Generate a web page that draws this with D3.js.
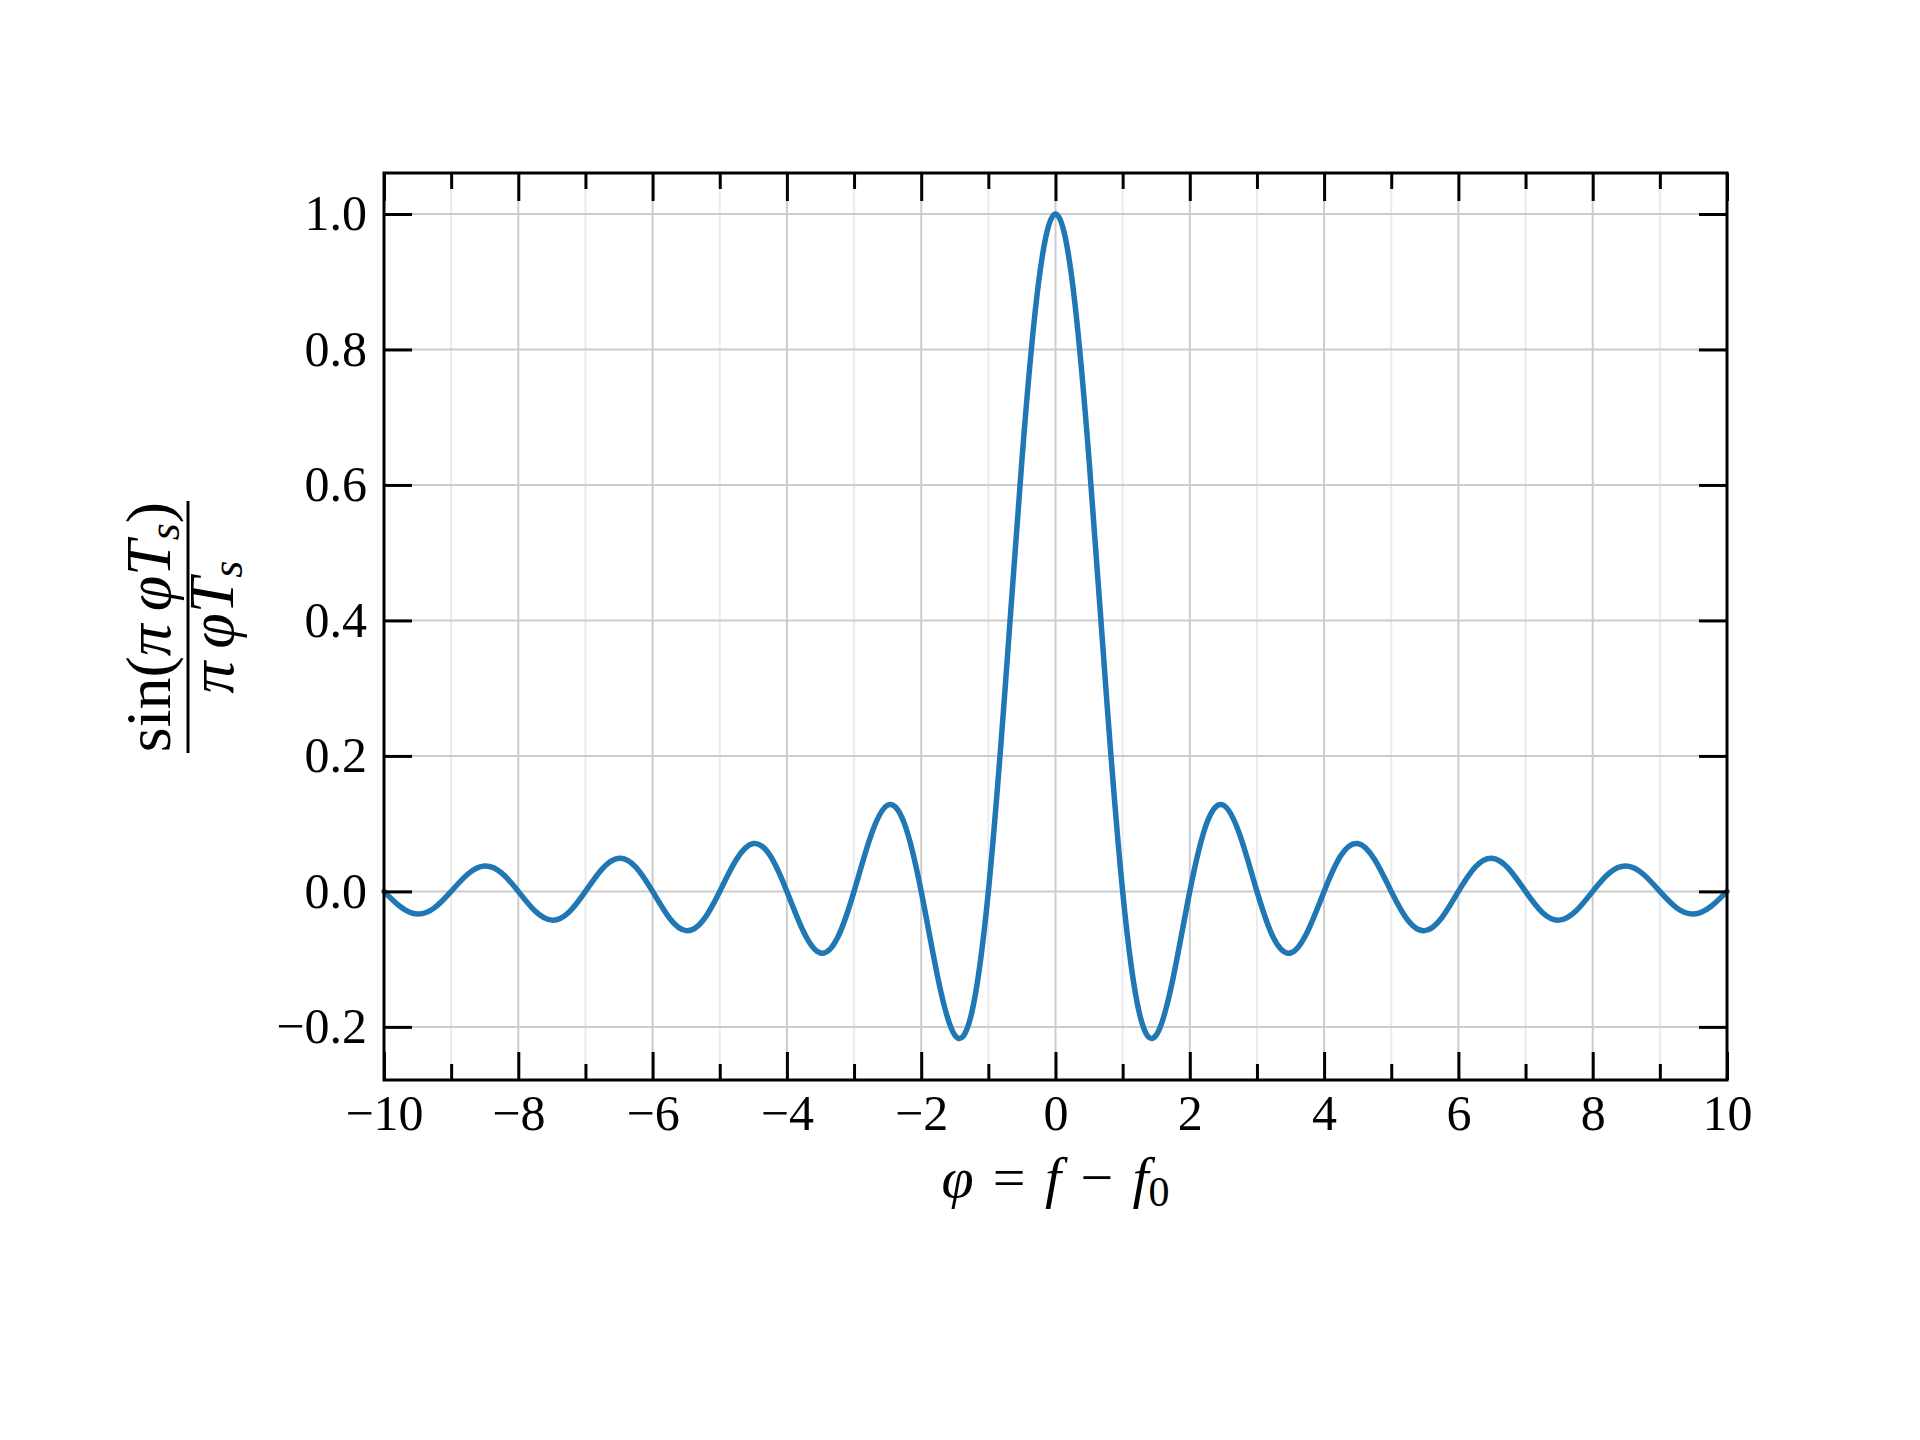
<!DOCTYPE html>
<html>
<head>
<meta charset="utf-8">
<script src="https://cdn.jsdelivr.net/npm/d3@7"></script>
<style>
  body { margin: 0; background: #fff; }
  text { font-family: "Liberation Serif", "DejaVu Serif", serif; fill: #000; }
</style>
</head>
<body>
<div id="chart"></div>
<script>
// sample positions along phi (quarter steps) and the curve values
const phiValues = d3.range(-10, 10.001, 0.25);
const curveValues = [
  0, -0.0231, -0.0335, -0.0243, 0, 0.0257, 0.0374, 0.0273,
  0, -0.029, -0.0424, -0.0311, 0, 0.0334, 0.049, 0.036,
  0, -0.0392, -0.0579, -0.0429, 0, 0.0474, 0.0707, 0.053,
  0, -0.06, -0.0909, -0.0693, 0, 0.0819, 0.1273, 0.1,
  0, -0.1286, -0.2122, -0.1801, 0, 0.3001, 0.6366, 0.9003,
  1,
  0.9003, 0.6366, 0.3001, 0, -0.1801, -0.2122, -0.1286, 0,
  0.1, 0.1273, 0.0819, 0, -0.0693, -0.0909, -0.06, 0,
  0.053, 0.0707, 0.0474, 0, -0.0429, -0.0579, -0.0392, 0,
  0.036, 0.049, 0.0334, 0, -0.0311, -0.0424, -0.029, 0,
  0.0273, 0.0374, 0.0257, 0, -0.0243, -0.0335, -0.0231, 0
];
const xMajorTicks = [-10, -8, -6, -4, -2, 0, 2, 4, 6, 8, 10];
const xMinorTicks = [-9, -7, -5, -3, -1, 1, 3, 5, 7, 9];
const yTicks = [-0.2, 0.0, 0.2, 0.4, 0.6, 0.8, 1.0];

const width = 1920;
const height = 1440;
const plotLeft = 384, plotRight = 1727, plotTop = 173, plotBottom = 1080;

const svg = d3.select("#chart")
  .append("svg")
  .attr("width", width)
  .attr("height", height);

const x = d3.scaleLinear().domain([-10, 10]).range([plotLeft, plotRight]);
const y = d3.scaleLinear().domain([-0.2784, 1.0605]).range([plotBottom, plotTop]);

const fmtMinus = (s) => s.replace("-", "\u2212");

// grid
svg.append("g")
  .selectAll("line")
  .data(xMinorTicks)
  .join("line")
  .attr("x1", (d) => x(d)).attr("x2", (d) => x(d))
  .attr("y1", plotTop).attr("y2", plotBottom)
  .attr("stroke", "#ebebeb").attr("stroke-width", 2);

svg.append("g")
  .selectAll("line")
  .data(xMajorTicks)
  .join("line")
  .attr("x1", (d) => x(d)).attr("x2", (d) => x(d))
  .attr("y1", plotTop).attr("y2", plotBottom)
  .attr("stroke", "#cccccc").attr("stroke-width", 2);

svg.append("g")
  .selectAll("line")
  .data(yTicks)
  .join("line")
  .attr("x1", plotLeft).attr("x2", plotRight)
  .attr("y1", (d) => y(d)).attr("y2", (d) => y(d))
  .attr("stroke", "#cccccc").attr("stroke-width", 2);

// curve
const points = phiValues.map((p, i) => [p, curveValues[i]]);
svg.append("path")
  .datum(points)
  .attr("fill", "none")
  .attr("stroke", "#1f77b4")
  .attr("stroke-width", 5.5)
  .attr("stroke-linejoin", "round")
  .attr("stroke-linecap", "round")
  .attr("d", d3.line().x((d) => x(d[0])).y((d) => y(d[1])).curve(d3.curveNatural));

// axes with inward ticks
const majorLen = 28, minorLen = 16;

svg.append("g")
  .attr("transform", `translate(0,${plotBottom})`)
  .call(d3.axisBottom(x).tickValues(xMinorTicks).tickSize(-minorLen).tickFormat(""))
  .call((g) => g.select(".domain").remove());
svg.append("g")
  .attr("transform", `translate(0,${plotBottom})`)
  .call(d3.axisBottom(x).tickValues(xMajorTicks).tickSize(-majorLen).tickPadding(14)
    .tickFormat((d) => fmtMinus(d3.format("d")(d))))
  .call((g) => g.select(".domain").remove())
  .call((g) => g.selectAll("text").attr("font-size", 50)
    .style("font-family", '"Liberation Serif", serif'));

svg.append("g")
  .attr("transform", `translate(0,${plotTop})`)
  .call(d3.axisTop(x).tickValues(xMinorTicks).tickSize(-minorLen).tickFormat(""))
  .call((g) => g.select(".domain").remove());
svg.append("g")
  .attr("transform", `translate(0,${plotTop})`)
  .call(d3.axisTop(x).tickValues(xMajorTicks).tickSize(-majorLen).tickFormat(""))
  .call((g) => g.select(".domain").remove());

svg.append("g")
  .attr("transform", `translate(${plotLeft},0)`)
  .call(d3.axisLeft(y).tickValues(yTicks).tickSize(-majorLen).tickPadding(17)
    .tickFormat((d) => fmtMinus(d3.format(".1f")(d))))
  .call((g) => g.select(".domain").remove())
  .call((g) => g.selectAll("text").attr("font-size", 50)
    .style("font-family", '"Liberation Serif", serif'));

svg.append("g")
  .attr("transform", `translate(${plotRight},0)`)
  .call(d3.axisRight(y).tickValues(yTicks).tickSize(-majorLen).tickFormat(""))
  .call((g) => g.select(".domain").remove());

svg.selectAll(".tick line").attr("stroke", "#000").attr("stroke-width", 3);

// frame
svg.append("rect")
  .attr("x", plotLeft).attr("y", plotTop)
  .attr("width", plotRight - plotLeft).attr("height", plotBottom - plotTop)
  .attr("fill", "none").attr("stroke", "#000").attr("stroke-width", 3);

// x label: phi = f - f0
const xLabel = svg.append("text")
  .attr("x", (plotLeft + plotRight) / 2)
  .attr("y", 1197)
  .attr("text-anchor", "middle")
  .attr("font-size", 58);
xLabel.append("tspan").attr("font-style", "italic").text("\u03C6");
xLabel.append("tspan").text("\u2004=\u2004");
xLabel.append("tspan").attr("font-style", "italic").text("f");
xLabel.append("tspan").text("\u2004\u2212\u2004");
xLabel.append("tspan").attr("font-style", "italic").text("f");
xLabel.append("tspan").attr("font-size", 42).attr("dy", 9).text("0");

// y label: sin(pi phi Ts) / (pi phi Ts)
const yLabel = svg.append("g")
  .attr("transform", "translate(188,627) rotate(-90)");

yLabel.append("line")
  .attr("x1", -126).attr("x2", 126)
  .attr("y1", 0).attr("y2", 0)
  .attr("stroke", "#000").attr("stroke-width", 3);

const num = yLabel.append("text")
  .attr("x", 0).attr("y", -18)
  .attr("text-anchor", "middle")
  .attr("font-size", 64);
num.append("tspan").text("sin(");
num.append("tspan").attr("font-style", "italic").text("\u03C0\u2009\u03C6T");
num.append("tspan").attr("font-style", "italic").attr("font-size", 44).attr("dy", 9).text("s");
num.append("tspan").attr("dy", -9).text(")");

const den = yLabel.append("text")
  .attr("x", 0).attr("y", 45)
  .attr("text-anchor", "middle")
  .attr("font-size", 64);
den.append("tspan").attr("font-style", "italic").text("\u03C0\u2009\u03C6T");
den.append("tspan").attr("font-style", "italic").attr("font-size", 44).attr("dy", 9).text("s");
</script>
</body>
</html>
